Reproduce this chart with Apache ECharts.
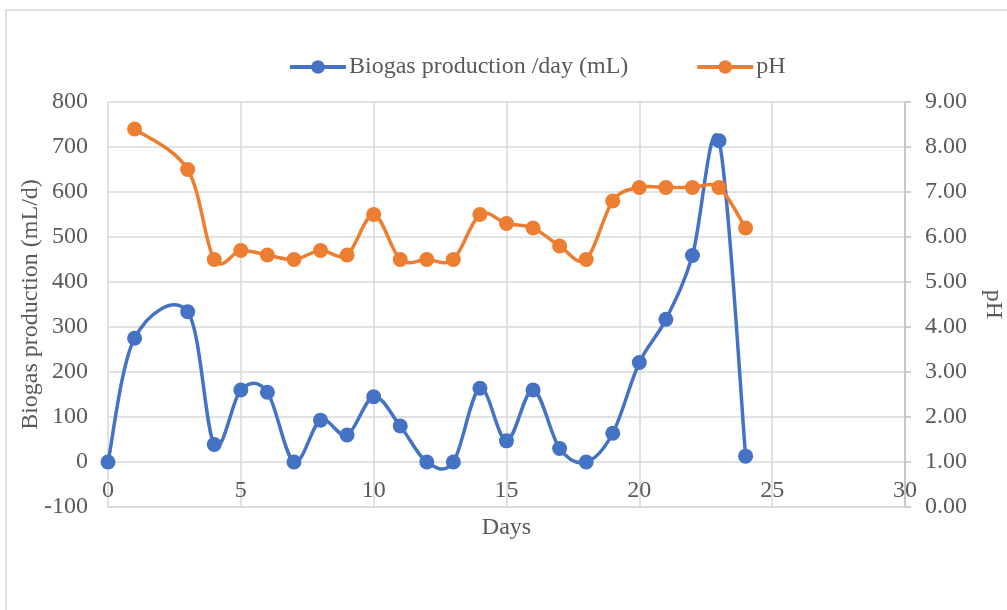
<!DOCTYPE html>
<html>
<head>
<meta charset="utf-8">
<script src="https://cdn.jsdelivr.net/npm/echarts@6/dist/echarts.min.js"></script>
<style>
  html, body { margin: 0; padding: 0; background: #ffffff; }
  #chart { width: 1007px; height: 610px; }
</style>
</head>
<body>
<div id="chart"></div>
<script>
// Daily biogas output and pH over the digestion period
const biogasDays = [0, 1, 3, 4, 5, 6, 7, 8, 9, 10, 11, 12, 13, 14, 15, 16, 17, 18, 19, 20, 21, 22, 23, 24];
const biogasValues = [0, 275, 334, 39, 160, 155, 0, 93, 60, 145, 80, 0, 0, 164, 47, 160, 30, 0, 64, 221, 317, 459, 714, 13];

const phDays = [1, 3, 4, 5, 6, 7, 8, 9, 10, 11, 12, 13, 14, 15, 16, 17, 18, 19, 20, 21, 22, 23, 24];
const phValues = [8.4, 7.5, 5.5, 5.7, 5.6, 5.5, 5.7, 5.6, 6.5, 5.5, 5.5, 5.5, 6.5, 6.3, 6.2, 5.8, 5.5, 6.8, 7.1, 7.1, 7.1, 7.1, 6.2];

const seriesNames = ['Biogas production /day (mL)', 'pH'];
const axisTitles = { x: 'Days', left: 'Biogas production (mL/d)', right: 'pH' };

const pair = (xs, ys) => xs.map((x, i) => [x, ys[i]]);

const BLUE = '#4472C4';
const ORANGE = '#ED7D31';
const textColor = '#595959';
const gridColor = '#d9d9d9';
const font = 'Liberation Serif, Times New Roman, serif';
const fontSize = 24;
const lineWidth = 3.5;

// Smoothed curve through the points (Catmull-Rom style cubic segments),
// positioned with the chart's own coordinate system.
function smoothCurve(xs, ys, color) {
  return function (params, api) {
    const pts = xs.map((x, i) => api.coord([x, ys[i]]));
    const n = pts.length;
    let d = 'M' + pts[0][0] + ',' + pts[0][1];
    for (let i = 0; i < n - 1; i++) {
      const p0 = pts[Math.max(i - 1, 0)];
      const p1 = pts[i];
      const p2 = pts[i + 1];
      const p3 = pts[Math.min(i + 2, n - 1)];
      const c1x = p1[0] + (p2[0] - p0[0]) / 6;
      const c1y = p1[1] + (p2[1] - p0[1]) / 6;
      const c2x = p2[0] - (p3[0] - p1[0]) / 6;
      const c2y = p2[1] - (p3[1] - p1[1]) / 6;
      d += ' C' + c1x + ',' + c1y + ' ' + c2x + ',' + c2y + ' ' + p2[0] + ',' + p2[1];
    }
    return {
      type: 'path',
      shape: { pathData: d },
      style: { fill: 'none', stroke: color, lineWidth: lineWidth, lineJoin: 'round', lineCap: 'round' },
      silent: true
    };
  };
}

const chart = echarts.init(document.getElementById('chart'), null, { renderer: 'canvas' });

chart.setOption({
  animation: false,
  backgroundColor: '#ffffff',
  textStyle: { fontFamily: font, color: textColor },
  graphic: [{
    type: 'rect',
    shape: { x: 6, y: 10, width: 1020, height: 620 },
    style: { fill: 'none', stroke: gridColor, lineWidth: 1.5 },
    silent: true,
    z: -1
  }],
  legend: {
    left: 283,
    top: 50,
    itemWidth: 56,
    itemHeight: 17,
    itemGap: 67,
    textStyle: { fontFamily: font, fontSize: fontSize, color: textColor, padding: [0, 0, 0, -2] },
    data: [
      { name: seriesNames[0], itemStyle: { color: BLUE }, lineStyle: { color: BLUE, width: 4, opacity: 1 } },
      { name: seriesNames[1], itemStyle: { color: ORANGE }, lineStyle: { color: ORANGE, width: 4, opacity: 1 } }
    ]
  },
  grid: { left: 108, right: 102, top: 102, bottom: 103, containLabel: false, outerBoundsMode: 'none' },
  xAxis: {
    type: 'value',
    min: 0, max: 30, interval: 5,
    name: axisTitles.x,
    nameLocation: 'middle',
    nameGap: 9,
    nameMoveOverlap: false,
    nameTextStyle: { fontFamily: font, fontSize: fontSize, color: textColor },
    axisLine: { onZero: false, lineStyle: { color: gridColor, width: 1.5 } },
    axisTick: { show: false },
    axisLabel: { inside: true, fontFamily: font, fontSize: fontSize, color: textColor, margin: 4 },
    splitLine: { show: true, lineStyle: { color: gridColor, width: 1.5 } }
  },
  yAxis: [{
    type: 'value',
    position: 'left',
    min: -100, max: 800, interval: 100,
    name: axisTitles.left,
    nameLocation: 'middle',
    nameGap: 65,
    nameRotate: 90,
    nameMoveOverlap: false,
    nameTextStyle: { fontFamily: font, fontSize: fontSize, color: textColor },
    axisLine: { show: false },
    axisTick: { show: false },
    axisLabel: { fontFamily: font, fontSize: fontSize, color: textColor, margin: 20 },
    splitLine: { show: true, lineStyle: { color: gridColor, width: 1.5 } }
  }, {
    type: 'value',
    position: 'right',
    min: 0, max: 9, interval: 1,
    name: axisTitles.right,
    nameLocation: 'middle',
    nameGap: 76,
    nameRotate: -90,
    nameMoveOverlap: false,
    nameTextStyle: { fontFamily: font, fontSize: fontSize, color: textColor },
    axisLine: { show: true, lineStyle: { color: '#bfbfbf', width: 1.5 } },
    axisTick: { show: true, inside: false, length: 6, lineStyle: { color: '#bfbfbf', width: 1.5 } },
    axisLabel: { fontFamily: font, fontSize: fontSize, color: textColor, margin: 20, formatter: v => v.toFixed(2) },
    splitLine: { show: false }
  }],
  series: [{
    name: 'biogas curve',
    type: 'custom',
    coordinateSystem: 'cartesian2d',
    yAxisIndex: 0,
    data: [[biogasDays[0], biogasValues[0]]],
    renderItem: smoothCurve(biogasDays, biogasValues, BLUE),
    silent: true,
    z: 2
  }, {
    name: seriesNames[0],
    type: 'line',
    yAxisIndex: 0,
    data: pair(biogasDays, biogasValues),
    symbol: 'circle',
    symbolSize: 15,
    lineStyle: { color: BLUE, width: 0, opacity: 0 },
    itemStyle: { color: BLUE },
    z: 3
  }, {
    name: 'ph curve',
    type: 'custom',
    coordinateSystem: 'cartesian2d',
    yAxisIndex: 1,
    data: [[phDays[0], phValues[0]]],
    renderItem: smoothCurve(phDays, phValues, ORANGE),
    silent: true,
    z: 4
  }, {
    name: seriesNames[1],
    type: 'line',
    yAxisIndex: 1,
    data: pair(phDays, phValues),
    symbol: 'circle',
    symbolSize: 15,
    lineStyle: { color: ORANGE, width: 0, opacity: 0 },
    itemStyle: { color: ORANGE },
    z: 5
  }]
});
</script>
</body>
</html>
